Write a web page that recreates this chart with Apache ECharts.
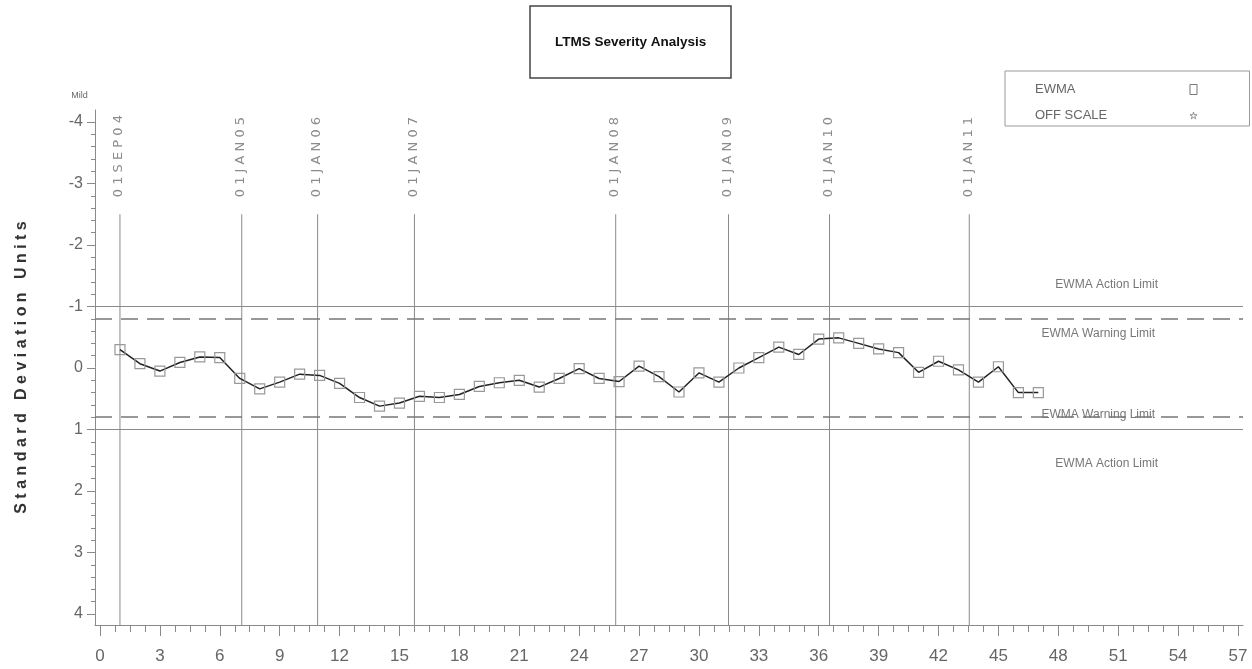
<!DOCTYPE html>
<html>
<head>
<meta charset="utf-8">
<script src="https://cdn.jsdelivr.net/npm/echarts@6/dist/echarts.min.js"></script>
<style>
  html, body { margin: 0; padding: 0; background: #fff; }
  #chart { width: 1252px; height: 669px; }
</style>
</head>
<body>
<div id="chart"></div>
<script>
// Test sequence numbers and their EWMA severity (standard deviation units)
const testNumbers = [
  1, 2, 3, 4, 5, 6, 7, 8, 9, 10, 11, 12, 13, 14, 15, 16, 17, 18, 19, 20,
  21, 22, 23, 24, 25, 26, 27, 28, 29, 30, 31, 32, 33, 34, 35, 36, 37, 38, 39, 40,
  41, 42, 43, 44, 45, 46, 47
];
const ewmaValues = [
  -0.30, -0.07, 0.05, -0.09, -0.18, -0.17, 0.17, 0.34, 0.23, 0.10,
  0.12, 0.25, 0.48, 0.62, 0.57, 0.46, 0.48, 0.43, 0.30, 0.24,
  0.20, 0.31, 0.17, 0.01, 0.17, 0.22, -0.03, 0.14, 0.39, 0.08,
  0.23, 0.00, -0.17, -0.34, -0.22, -0.47, -0.49, -0.40, -0.31, -0.25,
  0.07, -0.11, 0.03, 0.23, -0.02, 0.40, 0.40
];

// Calendar reference dates, placed at their position in the test sequence
const dateLabels = ['01SEP04', '01JAN05', '01JAN06', '01JAN07', '01JAN08', '01JAN09', '01JAN10', '01JAN11'];
const datePositions = [1.0, 7.1, 10.9, 15.75, 25.83, 31.48, 36.54, 43.54];

// Control limits
const actionLimit = 1.0;
const warningLimit = 0.8;
const limitNames = ['EWMA Action Limit', 'EWMA Warning Limit', 'EWMA Warning Limit', 'EWMA Action Limit'];
const limitValues = [-actionLimit, -warningLimit, warningLimit, actionLimit];

// Axis ranges and tick steps
const xRange = [0, 57];
const xStep = 3;
const yRange = [-4, 4];
const yStep = 1;

const W = 1252, H = 669;
// labelled axes span this area; the frame lines sit slightly outside it
const plot = { left: 100, right: 14, top: 122, bottom: 55 };
const frame = { left: 95, right: 9, top: 110, bottom: 44 };
const pxX = (W - plot.left - plot.right) / (xRange[1] - xRange[0]);
const pxY = (H - plot.top - plot.bottom) / (yRange[1] - yRange[0]);
const frameX = [xRange[0] - (plot.left - frame.left) / pxX, xRange[1] + (plot.right - frame.right) / pxX];
const frameY = [yRange[0] - (plot.top - frame.top) / pxY, yRange[1] + (plot.bottom - frame.bottom) / pxY];

const family = "'Liberation Sans', Arial, sans-serif";
const spaced = (s, gap) => s.split('').join(gap || ' ');
const starPath = 'path://M50,0 L61,35 L98,35 L68,57 L79,91 L50,70 L21,91 L32,57 L2,35 L39,35 Z';
const gridGray = '#8a8a8a';

const chart = echarts.init(document.getElementById('chart'), null, { renderer: 'canvas' });

chart.setOption({
  animation: false,
  backgroundColor: '#fff',
  title: {
    text: 'LTMS Severity Analysis',
    left: 530,
    top: 6,
    padding: [27, 25],
    borderColor: '#444',
    borderWidth: 1.5,
    textStyle: { fontFamily: family, fontSize: 13.5, fontWeight: 'bold', color: '#111', lineHeight: 18 }
  },
  legend: {
    orient: 'vertical',
    left: 1005,
    top: 71,
    align: 'right',
    selectedMode: false,
    padding: [12, 52, 4, 30],
    itemGap: 13,
    itemWidth: 7,
    itemHeight: 10,
    borderColor: '#999',
    borderWidth: 1,
    formatter: name => '{t|' + name + '}',
    textStyle: {
      color: '#666', fontSize: 13, fontFamily: family,
      rich: { t: { width: 150, align: 'left', color: '#666', fontSize: 13, fontFamily: family } }
    },
    data: [
      { name: 'EWMA', icon: 'rect', itemStyle: { color: '#fff', borderColor: '#777', borderWidth: 1 } },
      { name: 'OFF SCALE', icon: starPath, itemStyle: { color: '#fff', borderColor: '#777', borderWidth: 1 } }
    ]
  },
  grid: [
    { left: plot.left, right: plot.right, top: plot.top, bottom: plot.bottom },
    { left: frame.left, right: frame.right, top: frame.top, bottom: frame.bottom }
  ],
  xAxis: [
    {
      gridIndex: 0, type: 'value', min: xRange[0], max: xRange[1], interval: xStep,
      offset: plot.bottom - frame.bottom,
      axisLine: { show: false, onZero: false },
      axisTick: { show: true, length: 11, lineStyle: { color: gridGray } },
      minorTick: { show: true, splitNumber: 4, length: 7, lineStyle: { color: gridGray } },
      splitLine: { show: false },
      axisLabel: { margin: 23, color: '#666', fontSize: 17, fontFamily: family }
    },
    {
      gridIndex: 1, type: 'value', min: frameX[0], max: frameX[1],
      axisLine: { show: true, onZero: false, lineStyle: { color: gridGray, width: 1 } },
      axisTick: { show: false }, axisLabel: { show: false }, splitLine: { show: false }
    }
  ],
  yAxis: [
    {
      gridIndex: 0, type: 'value', inverse: true, min: yRange[0], max: yRange[1], interval: yStep,
      offset: plot.left - frame.left,
      axisLine: { show: false, onZero: false },
      axisTick: { show: true, length: 8, lineStyle: { color: gridGray } },
      minorTick: { show: true, splitNumber: 5, length: 4, lineStyle: { color: gridGray } },
      splitLine: { show: false },
      axisLabel: { margin: 12, color: '#666', fontSize: 16, fontFamily: family },
      name: 'Mild',
      nameLocation: 'start',
      nameGap: 22,
      nameTextStyle: { color: '#666', fontSize: 9, fontFamily: family, align: 'center', padding: [0, 31, 0, 0] }
    },
    {
      gridIndex: 1, type: 'value', inverse: true, min: frameY[0], max: frameY[1],
      axisLine: { show: true, onZero: false, lineStyle: { color: gridGray, width: 1 } },
      axisTick: { show: false }, axisLabel: { show: false }, splitLine: { show: false },
      name: 'S t a n d a r d   D e v i a t i o n   U n i t s',
      nameLocation: 'middle',
      nameRotate: 90,
      nameGap: 65,
      nameTextStyle: { color: '#333', fontSize: 16, fontWeight: 'bold', fontFamily: family }
    }
  ],
  series: [
    {
      name: 'EWMA',
      type: 'line',
      xAxisIndex: 0, yAxisIndex: 0,
      data: testNumbers.map((t, i) => [t, ewmaValues[i]]),
      symbol: 'rect',
      symbolSize: 10,
      lineStyle: { color: '#222', width: 1.5 },
      itemStyle: { color: 'rgba(255,255,255,0)', borderColor: '#999', borderWidth: 1.2 },
      emphasis: { disabled: true },
      z: 4
    },
    {
      name: 'OFF SCALE',
      type: 'scatter',
      xAxisIndex: 0, yAxisIndex: 0,
      data: [],
      symbol: starPath,
      itemStyle: { color: '#fff', borderColor: '#777', borderWidth: 1 }
    },
    {
      name: 'reference',
      type: 'custom',
      xAxisIndex: 1, yAxisIndex: 1,
      clip: false,
      silent: true,
      data: datePositions.map(x => [x]),
      renderItem: function (params, api) {
        const x = api.value(0);
        const top = api.coord([x, -2.5]);
        const bottom = api.coord([x, frameY[1]]);
        return {
          type: 'group',
          children: [
            {
              type: 'line',
              shape: { x1: top[0], y1: top[1], x2: bottom[0], y2: bottom[1] },
              style: { stroke: gridGray, lineWidth: 1 }
            },
            {
              type: 'text',
              x: top[0] - 1,
              y: top[1] - 17,
              rotation: Math.PI / 2,
              style: {
                text: spaced(dateLabels[params.dataIndex]),
                align: 'left',
                verticalAlign: 'middle',
                fill: '#8c8c8c',
                font: "13px 'DejaVu Sans', sans-serif"
              }
            }
          ]
        };
      },
      markLine: {
        silent: true,
        symbol: 'none',
        animation: false,
        label: { color: '#777', fontSize: 12, fontFamily: family, formatter: '{b}' },
        data: limitValues.map((v, i) => {
          const isAction = Math.abs(v) === actionLimit;
          const above = v < 0 ? isAction : !isAction;
          let dist;
          if (isAction) dist = v < 0 ? [85, 16] : [85, 28];
          else dist = v < 0 ? [88, 9] : [88, -3];
          return {
            name: limitNames[i],
            yAxis: v,
            lineStyle: isAction
              ? { color: gridGray, width: 1, type: 'solid' }
              : { color: '#777', width: 1.6, type: [17, 9] },
            label: { position: above ? 'insideEndTop' : 'insideEndBottom', distance: dist }
          };
        })
      }
    }
  ]
});
</script>
</body>
</html>
